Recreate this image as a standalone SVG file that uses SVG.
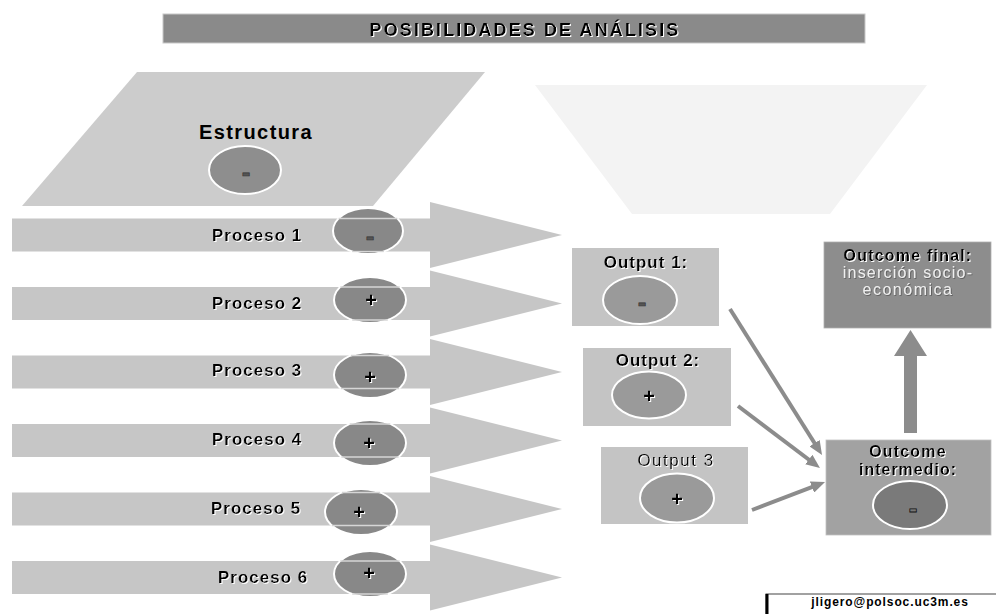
<svg xmlns="http://www.w3.org/2000/svg" width="996" height="614" viewBox="0 0 996 614">
  <defs>
    <filter id="lift" x="-5%" y="-20%" width="110%" height="140%">
      <feDropShadow dx="1" dy="1" stdDeviation="0.2" flood-color="#ffffff" flood-opacity="1"/>
    </filter>
    <filter id="sink" x="-5%" y="-20%" width="110%" height="140%">
      <feDropShadow dx="0.8" dy="0.8" stdDeviation="0.2" flood-color="#555555" flood-opacity="1"/>
    </filter>
    <marker id="head" viewBox="0 0 14 12" refX="4" refY="6" markerWidth="14" markerHeight="12" markerUnits="userSpaceOnUse" orient="auto">
      <path d="M0,0 L14,6 L0,12 z" fill="#8c8c8c"/>
    </marker>
    <style>
      .lbl { font-family: "Liberation Sans", Arial, sans-serif; fill: #000; }
      .b { font-weight: bold; }
      .proc { font-size: 17px; font-weight: bold; letter-spacing: 1px; filter: url(#lift); }
      .arrow { fill: #c6c6c6; }
      .dot { fill: #888888; stroke: #ffffff; stroke-width: 2; }
      .dotL { fill: #9a9a9a; stroke: #ffffff; stroke-width: 2; }
      .chord { stroke: #d6d6d6; stroke-width: 1.3; }
      .plus { font-family: "Liberation Sans", Arial, sans-serif; font-weight: bold; font-size: 20px; fill: #000; text-anchor: middle; filter: url(#lift); }
      .minus { font-family: "Liberation Sans", Arial, sans-serif; font-weight: bold; font-size: 26px; fill: #555555; stroke: #333333; stroke-width: 0.6; text-anchor: middle; }
      .box { fill: #c4c4c4; }
      .conn { stroke: #8c8c8c; stroke-width: 4; fill: none; marker-end: url(#head); }
    </style>
  </defs>

  <rect width="996" height="614" fill="#ffffff"/>

  <!-- title bar -->
  <g id="title">
    <rect x="163" y="14" width="702" height="29" fill="#8a8a8a" stroke="#c8c8c8" stroke-width="1"/>
    <text class="lbl b" x="525" y="35.5" font-size="18" letter-spacing="2.1" text-anchor="middle" filter="url(#lift)">POSIBILIDADES DE ANÁLISIS</text>
  </g>

  <!-- structure plane -->
  <g id="estructura">
    <polygon points="137,72 485,72 373,206 22,206" fill="#cccccc"/>
    <text class="lbl b" x="256" y="139" font-size="20" letter-spacing="1.4" text-anchor="middle">Estructura</text>
    <ellipse class="dotL" cx="245" cy="170" rx="36" ry="24" style="fill:#8e8e8e"/>
    <text class="minus" x="246" y="181">-</text>
  </g>

  <!-- funnel -->
  <g id="embudo">
    <polygon points="535,85 927,85 830,214 632,214" fill="#f3f3f3"/>
  </g>

  <!-- process arrows -->
  <g id="proceso1">
    <polygon class="arrow" points="12,218.5 430,218.5 430,202 562,235 430,268 430,251.5 12,251.5"/>
    <text class="lbl proc" x="212" y="241">Proceso 1</text>
    <ellipse class="dot" cx="368" cy="231" rx="35" ry="23"/>
    <line class="chord" x1="338.6" y1="218.5" x2="397.4" y2="218.5"/>
    <line class="chord" x1="352.1" y1="251.5" x2="383.9" y2="251.5"/>
    <text class="minus" x="370" y="245">-</text>
  </g>
  <g id="proceso2">
    <polygon class="arrow" points="12,287 430,287 430,270.5 562,303.5 430,336.5 430,320 12,320"/>
    <text class="lbl proc" x="212" y="309">Proceso 2</text>
    <ellipse class="dot" cx="370" cy="300" rx="36" ry="23"/>
    <line class="chord" x1="340.3" y1="287" x2="399.7" y2="287"/>
    <line class="chord" x1="352.2" y1="320" x2="387.8" y2="320"/>
    <text class="plus" x="371" y="307">+</text>
  </g>
  <g id="proceso3">
    <polygon class="arrow" points="12,355.5 430,355.5 430,339 562,372 430,405 430,388.5 12,388.5"/>
    <text class="lbl proc" x="212" y="376">Proceso 3</text>
    <ellipse class="dot" cx="370" cy="375" rx="36" ry="23"/>
    <line class="chord" x1="350.9" y1="355.5" x2="389.1" y2="355.5"/>
    <line class="chord" x1="340.8" y1="388.5" x2="399.2" y2="388.5"/>
    <text class="plus" x="370" y="384">+</text>
  </g>
  <g id="proceso4">
    <polygon class="arrow" points="12,424 430,424 430,407.5 562,440.5 430,473.5 430,457 12,457"/>
    <text class="lbl proc" x="212" y="445">Proceso 4</text>
    <ellipse class="dot" cx="370" cy="443" rx="36" ry="23"/>
    <line class="chord" x1="349.7" y1="424" x2="390.3" y2="424"/>
    <line class="chord" x1="341.4" y1="457" x2="398.6" y2="457"/>
    <text class="plus" x="369" y="450">+</text>
  </g>
  <g id="proceso5">
    <polygon class="arrow" points="12,492.5 430,492.5 430,476 562,509 430,542 430,525.5 12,525.5"/>
    <text class="lbl proc" x="211" y="514">Proceso 5</text>
    <ellipse class="dot" cx="361" cy="512" rx="36" ry="23"/>
    <line class="chord" x1="341.9" y1="492.5" x2="380.1" y2="492.5"/>
    <line class="chord" x1="331.8" y1="525.5" x2="390.2" y2="525.5"/>
    <text class="plus" x="359" y="519">+</text>
  </g>
  <g id="proceso6">
    <polygon class="arrow" points="12,561 430,561 430,544.5 562,577.5 430,610.5 430,594 12,594"/>
    <text class="lbl proc" x="218" y="583">Proceso 6</text>
    <ellipse class="dot" cx="370" cy="574" rx="36" ry="23"/>
    <line class="chord" x1="340.3" y1="561" x2="399.7" y2="561"/>
    <line class="chord" x1="352.2" y1="594" x2="387.8" y2="594"/>
    <text class="plus" x="369" y="580">+</text>
  </g>

  <!-- outputs -->
  <g id="output1">
    <rect class="box" x="572" y="248" width="147" height="78"/>
    <text class="lbl b" x="646" y="268" font-size="17" letter-spacing="1" text-anchor="middle" filter="url(#lift)">Output 1:</text>
    <ellipse class="dotL" cx="640" cy="300" rx="37" ry="24"/>
    <text class="minus" x="642" y="311">-</text>
  </g>
  <g id="output2">
    <rect class="box" x="583" y="348" width="148" height="78"/>
    <text class="lbl b" x="658" y="366" font-size="17" letter-spacing="1" text-anchor="middle" filter="url(#lift)">Output 2:</text>
    <ellipse class="dotL" cx="649" cy="395" rx="37" ry="23.5"/>
    <text class="plus" x="649" y="403">+</text>
  </g>
  <g id="output3">
    <rect class="box" x="601" y="447" width="147" height="77"/>
    <text class="lbl" x="676" y="466" font-size="17" letter-spacing="1.5" text-anchor="middle" filter="url(#lift)">Output 3</text>
    <ellipse class="dotL" cx="677" cy="498" rx="37" ry="24.5"/>
    <text class="plus" x="677" y="506">+</text>
  </g>

  <!-- outcomes -->
  <g id="outcome-final">
    <rect x="824" y="242" width="167" height="86" fill="#8d8d8d" stroke="#b0b0b0" stroke-width="0.8"/>
    <text class="lbl b" x="908" y="261" font-size="16" letter-spacing="1.2" text-anchor="middle" filter="url(#lift)">Outcome final:</text>
    <text class="lbl" x="908" y="278" font-size="16" letter-spacing="1.2" text-anchor="middle" style="fill:#efefef" filter="url(#sink)">inserción socio-</text>
    <text class="lbl" x="908" y="295" font-size="16" letter-spacing="1.5" text-anchor="middle" style="fill:#efefef" filter="url(#sink)">económica</text>
  </g>
  <g id="outcome-intermedio">
    <rect x="826" y="440" width="165" height="95" fill="#a2a2a2" stroke="#c0c0c0" stroke-width="0.8"/>
    <text class="lbl b" x="908" y="457" font-size="16" letter-spacing="1.2" text-anchor="middle" filter="url(#lift)">Outcome</text>
    <text class="lbl b" x="908" y="475" font-size="16" letter-spacing="1" text-anchor="middle" filter="url(#lift)">intermedio:</text>
    <ellipse class="dotL" cx="910" cy="505" rx="37" ry="24" style="fill:#7a7a7a"/>
    <text class="minus" x="913" y="517" style="fill:#777777;stroke:#111111;stroke-width:0.8">-</text>
  </g>

  <!-- connectors -->
  <g id="connectors">
    <line class="conn" x1="730" y1="309" x2="816.7" y2="446.5"/>
    <line class="conn" x1="738" y1="406" x2="812" y2="462"/>
    <line class="conn" x1="752" y1="510" x2="815.7" y2="485.6"/>
    <polygon points="904,433 904,356 894,356 910.5,330 927,356 917,356 917,433" fill="#8c8c8c"/>
  </g>

  <!-- contact -->
  <g id="contacto">
    <rect x="766" y="594" width="232" height="24" fill="#ffffff" stroke="#444444" stroke-width="1"/>
    <line x1="767" y1="594" x2="767" y2="614" stroke="#000000" stroke-width="3"/>
    <text class="lbl b" x="890" y="606" font-size="12" letter-spacing="0.9" text-anchor="middle">jligero@polsoc.uc3m.es</text>
  </g>
</svg>
